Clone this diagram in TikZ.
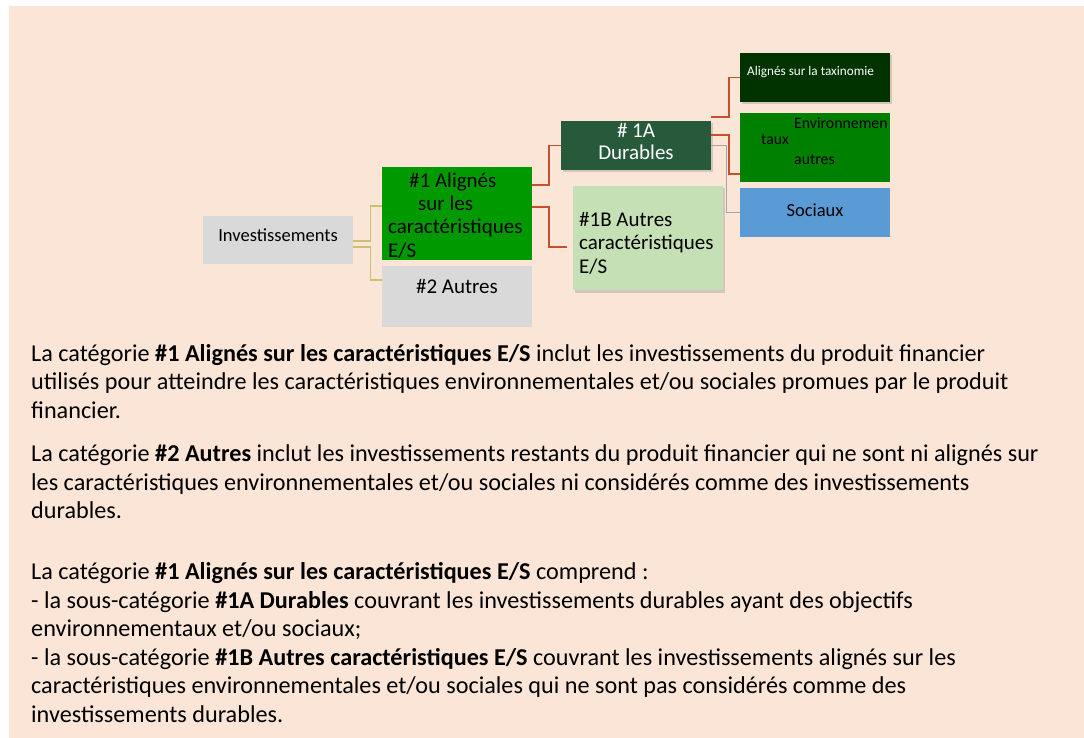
\documentclass[tikz,border=0pt]{standalone}
\usepackage{fontspec}
\setmainfont{Carlito}
\usetikzlibrary{shadows}
\definecolor{peach}{HTML}{FBE5D6}
\definecolor{boxgray}{HTML}{D9D9D9}
\definecolor{esgreen}{HTML}{009900}
\definecolor{durgreen}{HTML}{265A3A}
\definecolor{lightgreen}{HTML}{C5E0B4}
\definecolor{taxgreen}{HTML}{003300}
\definecolor{envgreen}{HTML}{008000}
\definecolor{socblue}{HTML}{5B9BD5}
\definecolor{linkred}{HTML}{C5502E}
\definecolor{linkolive}{HTML}{CBC06E}
\definecolor{linkgray}{HTML}{A6A6A6}
\begin{document}
\begin{tikzpicture}[x=1pt,y=-1pt]

    \tikzset{
      box/.style={
        inner sep=0pt,
        minimum width=150pt,
      },
      shade/.style={
        drop shadow={shadow xshift=1.5pt, shadow yshift=-2.5pt, opacity=0.3},
      },
      txt/.style={anchor=base west, align=left, inner sep=0pt},
      big/.style={font=\fontsize{21}{23.3}\selectfont},
      body/.style={font=\fontsize{24.2}{28.5}\selectfont},
      redlink/.style={draw=linkred, line width=1.8pt},
      olivelink/.style={draw=linkolive, line width=1.2pt},
      graylink/.style={draw=linkgray, line width=1.2pt},
    }
    \useasboundingbox (0,0) rectangle (1084,738);
    \fill[peach] (9,6) rectangle (1084,738);

    % diagram boxes
    \node[box, fill=boxgray, minimum height=48pt, text height=25pt, text depth=23pt, font=\fontsize{18.5}{22}\selectfont] (inv) at (278,240) {Investissements};
    \node[box, fill=esgreen, minimum height=93pt] (al) at (457,213.5) {};
    \node[txt, big] (alt) at (388,257) {\hspace{21pt}\#1 Alignés\\\hspace{30pt}sur les\\caractéristiques\\E/S};
    \node[box, fill=boxgray, minimum height=61pt, text height=27pt, text depth=34pt, big] (au) at (457,296.5) {\#2 Autres};
    \node[box, fill=durgreen, minimum height=49pt, shade] (d) at (636,145.5) {};
    \node[anchor=base, align=center, inner sep=0pt, text=white, font=\fontsize{21}{22}\selectfont] (dt) at (636,160) {\# 1A\\Durables};
    \node[box, fill=lightgreen, minimum height=104pt, shade] (b) at (648,238) {};
    \node[txt, big] (bt) at (579,273) {\#1B Autres\\caractéristiques\\E/S};
    \node[box, fill=taxgreen, minimum height=49pt, shade] (tax) at (815,77.5) {};
    \node[txt, text=white, font=\fontsize{13.2}{16}\selectfont] (taxt) at (747,76) {Alignés sur la taxinomie};
    \node[box, fill=envgreen, minimum height=69pt] (env) at (815,147.5) {};
    \node[txt, font=\fontsize{15.8}{20}\selectfont] (envt) at (761,165) {\hspace{33pt}Environnemen\\[-4pt]taux\\\hspace{33pt}autres};
    \node[box, fill=socblue, minimum height=49pt, text height=29pt, text depth=20pt, font=\fontsize{18.5}{22}\selectfont] (soc) at (815,212.5) {Sociaux};

    % connectors
    \draw[olivelink] ([yshift=-1pt]inv.east) -- ++(17,0) |- ([yshift=7.5pt]al.west);
    \draw[olivelink] ([yshift=-7pt]inv.east) -- ++(17,0) |- ([yshift=16.5pt]au.west);
    \draw[redlink] ([yshift=28.5pt]al.east) -- ++(17,0) |- (d.west);
    \draw[redlink] ([yshift=6.5pt]al.east) -- ++(17,0) |- ([xshift=-6pt,yshift=-9pt]b.west);
    \draw[redlink] ([yshift=4pt]d.north east) -- ++(18,0) |- (tax.west);
    \draw[redlink] ([yshift=10.5pt]d.east) -- ++(18,0) |- ([yshift=-26.5pt]env.west);
    \draw[graylink] (d.east) -- ++(15,0) |- (soc.west);

    % explanations
    \node[txt, body] (p1) at (31,418) {La catégorie \textbf{\#1 Alignés sur les caractéristiques E/S} inclut les investissements du produit financier\\utilisés pour atteindre les caractéristiques environnementales et/ou sociales promues par le produit\\financier.};
    \node[txt, body] (p2) at (31,518.5) {La catégorie \textbf{\#2 Autres} inclut les investissements restants du produit financier qui ne sont ni alignés sur\\les caractéristiques environnementales et/ou sociales ni considérés comme des investissements\\durables.};
    \node[txt, body] (p3) at (31,722) {La catégorie \textbf{\#1 Alignés sur les caractéristiques E/S} comprend :\\- la sous-catégorie \textbf{\#1A Durables} couvrant les investissements durables ayant des objectifs\\environnementaux et/ou sociaux;\\- la sous-catégorie \textbf{\#1B Autres caractéristiques E/S} couvrant les investissements alignés sur les\\caractéristiques environnementales et/ou sociales qui ne sont pas considérés comme des\\investissements durables.};

\end{tikzpicture}
\end{document}
